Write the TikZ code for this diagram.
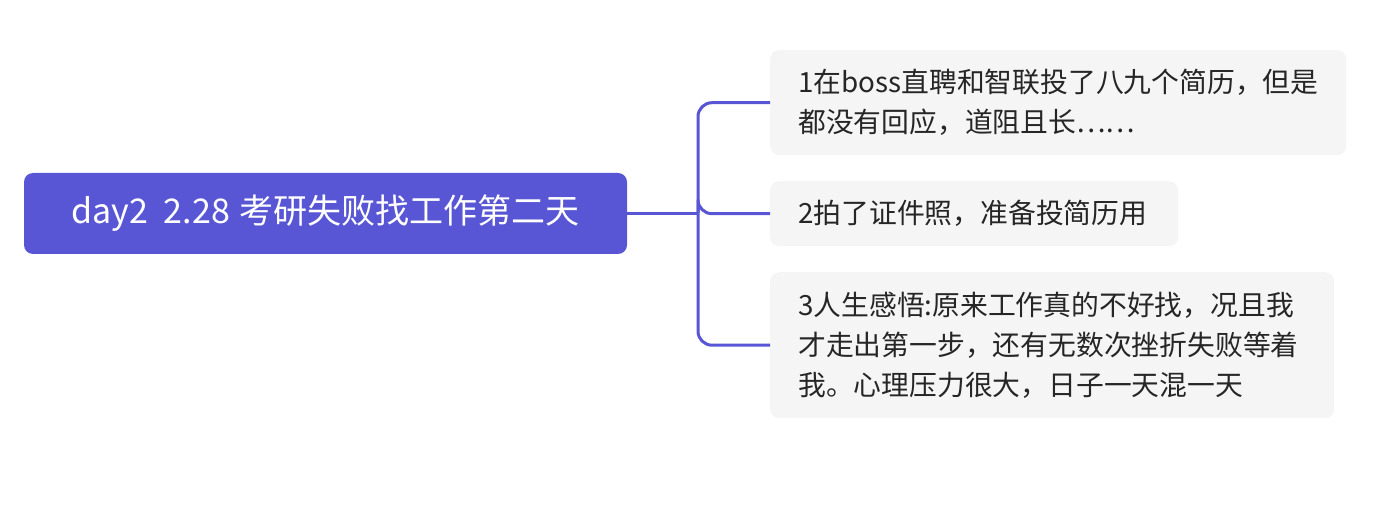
\documentclass[tikz,border=0pt]{standalone}
\usepackage{fontspec}
\newfontfamily\cjk{Noto Sans CJK SC}
\usetikzlibrary{positioning}

\definecolor{rootBlue}{RGB}{88,86,212}
\definecolor{leafGray}{RGB}{245,245,245}
\definecolor{inkGray}{RGB}{38,38,38}

\begin{document}
\begin{tikzpicture}[x=1pt, y=-1pt, font=\cjk]
		% ==================================================
		% 1. 参数设置
		% ==================================================
		\def\forkX{698}     % 分叉竖线的位置
		\def\lineW{3pt}     % 连线粗细
		\def\leafFont{\fontsize{27.8}{40}\selectfont}
		\def\rootFont{\fontsize{34}{38}\selectfont}

		\tikzset{
			rootbox/.style={fill=rootBlue, rounded corners=9pt, text=white,
				minimum width=603pt, minimum height=81pt, inner sep=0pt,
				font=\cjk\rootFont},
			leafbox/.style={fill=leafGray, rounded corners=9pt, text=inkGray,
				anchor=north west, align=left, inner xsep=28pt, inner ysep=0pt,
				font=\cjk\leafFont},
			link/.style={draw=rootBlue, line width=\lineW, rounded corners=14pt},
		}

		% 画布大小
		\useasboundingbox (0,0) rectangle (1383,526);

		% 2. 中心主题
		\node[rootbox] (root) at (325.5,213.5) {day2\hspace{16pt}2.28\hspace{10pt}考研失败找工作第二天};

		% 3. 分支主题
		\node[leafbox, text width=520pt, minimum height=105pt] (leafA) at (770,50)
			{1在boss直聘和智联投了八九个简历，但是\\都没有回应，道阻且长……};
		\node[leafbox, text width=352pt, minimum height=65pt] (leafB) at (770,181)
			{2拍了证件照，准备投简历用};
		\node[leafbox, text width=508pt, minimum height=146pt] (leafC) at (770,272)
			{3人生感悟:原来工作真的不好找，况且我\\才走出第一步，还有无数次挫折失败等着\\我。心理压力很大，日子一天混一天};

		% 4. 连线
		\coordinate (fork) at (\forkX,213.5);
		\draw[link] (root.east) -- (fork);
		\foreach \leaf in {leafA,leafB,leafC} {
			\draw[link] (fork) |- (\leaf.west);
		}

	\end{tikzpicture}
\end{document}
